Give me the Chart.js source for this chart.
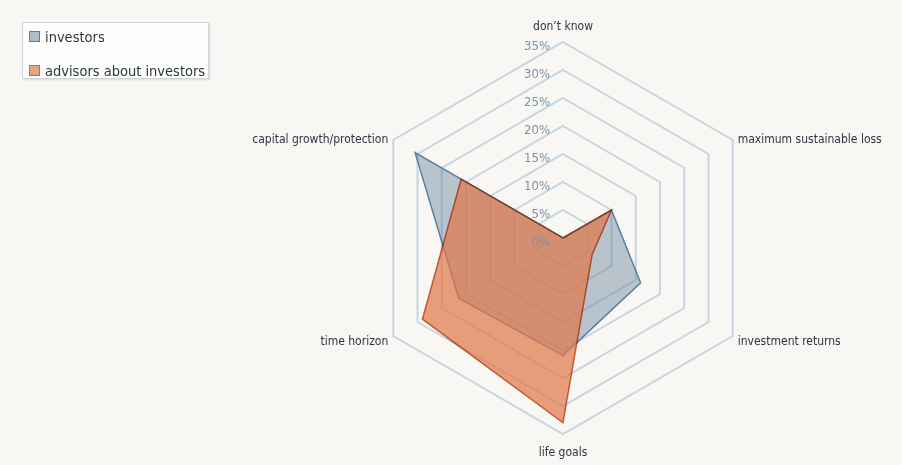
<!DOCTYPE html>
<html lang="en">
<head>
  <meta charset="UTF-8">
  <title>Investment priorities - investors vs advisors</title>
  <script src="https://cdn.jsdelivr.net/npm/chart.js"></script>
  <style>
    body {
      margin: 0;
      background-color: #f8f7f3;
      font-family: "Liberation Sans Narrow", "DejaVu Sans Condensed", "Open Sans", sans-serif;
    }
    .wrap {
      position: relative;
      width: 902px;
      height: 465px;
    }
    canvas {
      position: absolute;
      left: 0;
      top: 0;
    }
    .legend {
      position: absolute;
      left: 22px;
      top: 22px;
      width: 187px;
      height: 57px;
      box-sizing: border-box;
      background-color: #fdfdfb;
      border: 1px solid #cdd5dc;
      box-shadow: 1px 1px 2px rgba(0,0,0,0.12);
      font-size: 14.5px;
      color: #2e3740;
    }
    .legend div {
      position: absolute;
      left: 6px;
      white-space: nowrap;
      line-height: 16px;
    }
    .legend span {
      display: inline-block;
      width: 9px;
      height: 9px;
      margin-right: 5px;
      vertical-align: 0px;
    }
  </style>
</head>
<body>
  <div class="wrap">
    <canvas id="radar" width="902" height="465"></canvas>
    <div class="legend">
      <div style="top:6px"><span style="background:#aebcc8;border:1px solid #5a7f9c"></span>investors</div>
      <div style="top:40px"><span style="background:#e2a482;border:1px solid #c06c44"></span>advisors about investors</div>
    </div>
  </div>

  <script>
    const axisLabels = ['don’t know', 'maximum sustainable loss', 'investment returns',
                        'life goals', 'time horizon', 'capital growth/protection'];
    const investors = [0, 10, 16, 21, 21.5, 30.5];
    const advisors = [0, 10, 6, 33, 29, 21];
    const tickStep = 5;
    const tickMax = 35;

    const narrowFont = '"Liberation Sans Narrow", "DejaVu Sans Condensed", "Open Sans", sans-serif';

    // paint the page colour into the canvas so the multiply blend has something to work on
    const canvasBg = {
      id: 'canvasBg',
      beforeDraw(chart) {
        const ctx = chart.ctx;
        ctx.save();
        ctx.fillStyle = '#f8f7f3';
        ctx.fillRect(0, 0, chart.width, chart.height);
        ctx.restore();
      },
      beforeDatasetDraw(chart, args) {
        if (args.index === 1) {
          chart.ctx.save();
          chart.ctx.globalCompositeOperation = 'multiply';
        }
      },
      afterDatasetDraw(chart, args) {
        if (args.index === 1) chart.ctx.restore();
      }
    };

    // tick and axis labels are drawn by hand so they can sit beside the axis
    const radarText = {
      id: 'radarText',
      afterDatasetsDraw(chart) {
        const r = chart.scales.r;
        const ctx = chart.ctx;
        ctx.save();
        ctx.textBaseline = 'middle';

        ctx.font = '13px ' + narrowFont;
        ctx.fillStyle = '#7a93a7';
        ctx.textAlign = 'right';
        r.ticks.forEach(t => {
          const d = r.getDistanceFromCenterForValue(t.value);
          ctx.fillText(t.label, r.xCenter - 13, r.yCenter - d + 5);
        });

        ctx.font = '12px ' + narrowFont;
        ctx.fillStyle = '#2c3640';
        axisLabels.forEach((label, i) => {
          const p = r.getPointPosition(i, r.drawingArea);
          if (Math.abs(p.x - r.xCenter) < 1) {
            ctx.textAlign = 'center';
            ctx.fillText(label, p.x, p.y < r.yCenter ? p.y - 15 : p.y + 19);
          } else {
            const right = p.x > r.xCenter;
            ctx.textAlign = right ? 'left' : 'right';
            ctx.fillText(label, right ? p.x + 5 : p.x - 5, p.y > r.yCenter ? p.y + 6 : p.y);
          }
        });
        ctx.restore();
      }
    };

    new Chart(document.getElementById('radar'), {
      type: 'radar',
      data: {
        labels: axisLabels,
        datasets: [{
          label: 'investors',
          data: investors,
          borderColor: '#55809f',
          backgroundColor: 'rgba(95,125,150,0.42)',
          borderWidth: 1.5,
          pointRadius: 0,
          order: 2
        }, {
          label: 'advisors about investors',
          data: advisors,
          borderColor: '#d0764a',
          backgroundColor: 'rgba(225,120,75,0.72)',
          borderWidth: 1.5,
          pointRadius: 0,
          order: 1
        }]
      },
      options: {
        responsive: false,
        animation: false,
        layout: {
          padding: { left: 224, right: 0, top: 42, bottom: 31 }
        },
        plugins: {
          legend: { display: false },
          tooltip: { enabled: false }
        },
        scales: {
          r: {
            min: 0,
            max: tickMax,
            ticks: {
              stepSize: tickStep,
              display: false,
              callback: v => v + '%'
            },
            pointLabels: { display: false },
            angleLines: { display: false },
            grid: { color: '#c6d5df', lineWidth: 2 }
          }
        }
      },
      plugins: [canvasBg, radarText]
    });
  </script>
</body>
</html>
